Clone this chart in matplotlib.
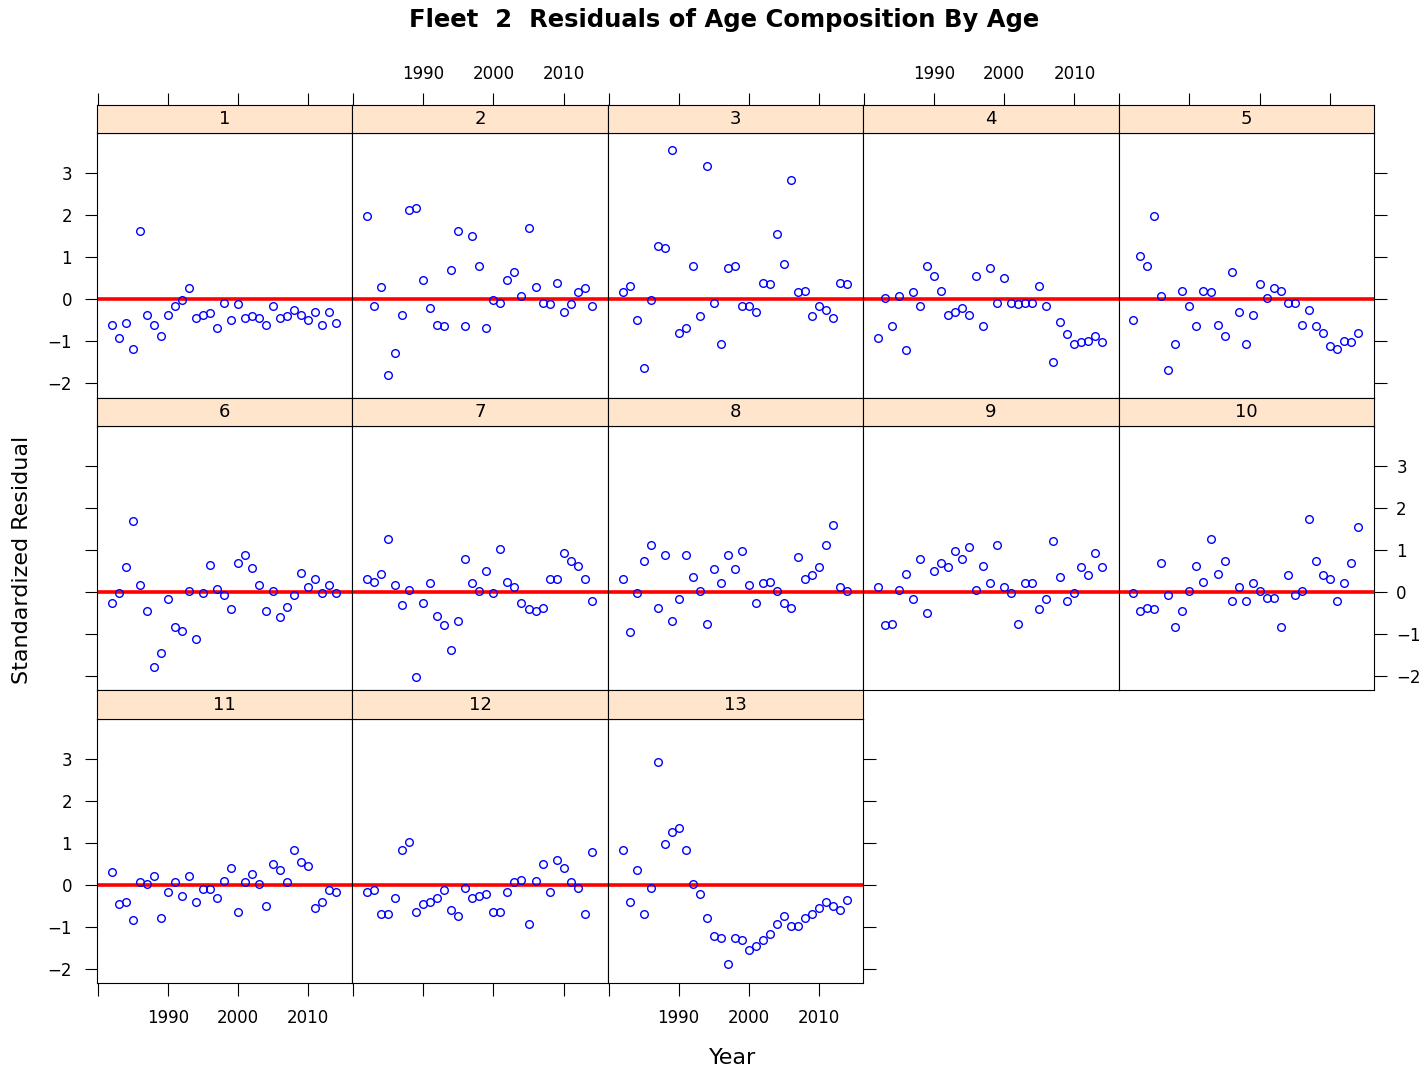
import numpy as np
import matplotlib
matplotlib.use("Agg")
import matplotlib.pyplot as plt

plt.rcParams["font.family"] = ["DejaVu Sans"]

years = list(range(1982, 2015))

age1 = [-0.60, -0.93, -0.56, -1.17, 1.63, -0.37, -0.60, -0.88, -0.37, -0.17, -0.02,
        0.26, -0.44, -0.37, -0.32, -0.69, -0.08, -0.50, -0.12, -0.44, -0.40, -0.44,
        -0.60, -0.17, -0.44, -0.40, -0.25, -0.37, -0.50, -0.31, -0.60, -0.31, -0.56]
age2 = [1.98, -0.17, 0.30, -1.79, -1.27, -0.37, 2.12, 2.17, 0.45, -0.20, -0.60,
        -0.64, 0.69, 1.63, -0.64, 1.50, 0.79, -0.69, -0.02, -0.08, 0.45, 0.64,
        0.07, 1.69, 0.30, -0.08, -0.12, 0.40, -0.31, -0.12, 0.17, 0.26, -0.17]
age3 = [0.17, 0.31, -0.50, -1.64, -0.02, 1.26, 1.21, 3.56, -0.79, -0.69, 0.79,
        -0.40, 3.17, -0.08, -1.07, 0.74, 0.79, -0.17, -0.17, -0.31, 0.40, 0.36,
        1.55, 0.83, 2.83, 0.17, 0.21, -0.40, -0.17, -0.25, -0.44, 0.40, 0.36]
age4 = [-0.93, 0.02, -0.64, 0.07, -1.21, 0.17, -0.17, 0.79, 0.55, 0.21, -0.37,
        -0.31, -0.21, -0.37, 0.55, -0.64, 0.74, -0.08, 0.50, -0.08, -0.12, -0.08,
        -0.08, 0.31, -0.17, -1.50, -0.55, -0.83, -1.07, -1.02, -0.98, -0.88, -1.02]
age5 = [-0.50, 1.02, 0.79, 1.98, 0.07, -1.69, -1.07, 0.21, -0.17, -0.64, 0.21,
        0.17, -0.60, -0.88, 0.64, -0.31, -1.07, -0.37, 0.36, 0.02, 0.26, 0.21,
        -0.08, -0.08, -0.60, -0.26, -0.64, -0.79, -1.12, -1.17, -0.98, -1.02, -0.79]
age6 = [-0.25, -0.02, 0.60, 1.69, 0.17, -0.44, -1.78, -1.45, -0.17, -0.83, -0.93,
        0.02, -1.11, -0.02, 0.65, 0.07, -0.07, -0.40, 0.70, 0.89, 0.56, 0.17,
        -0.44, 0.02, -0.60, -0.36, -0.07, 0.46, 0.12, 0.32, -0.02, 0.17, -0.02]
age7 = [0.30, 0.25, 0.44, 1.25, 0.16, -0.31, 0.06, -2.03, -0.27, 0.21, -0.56,
        -0.79, -1.37, -0.70, 0.78, 0.21, 0.02, 0.49, -0.03, 1.02, 0.25, 0.11,
        -0.27, -0.41, -0.46, -0.37, 0.30, 0.30, 0.92, 0.73, 0.63, 0.30, -0.22]
age8 = [0.30, -0.94, -0.03, 0.73, 1.11, -0.37, 0.87, -0.70, -0.17, 0.87, 0.35,
        0.02, -0.75, 0.54, 0.21, 0.87, 0.54, 0.97, 0.16, -0.27, 0.21, 0.25,
        0.02, -0.27, -0.37, 0.83, 0.30, 0.40, 0.59, 1.11, 1.59, 0.11, 0.02]
age9 = [0.11, -0.79, -0.75, 0.06, 0.44, -0.17, 0.78, -0.51, 0.49, 0.68, 0.59,
        0.97, 0.78, 1.06, 0.06, 0.63, 0.21, 1.11, 0.11, -0.03, -0.75, 0.21,
        0.21, -0.41, -0.17, 1.21, 0.35, -0.22, -0.03, 0.59, 0.40, 0.92, 0.59]
age10 = [-0.03, -0.46, -0.37, -0.41, 0.68, -0.08, -0.84, -0.46, 0.02, 0.63, 0.25,
         1.25, 0.44, 0.73, -0.22, 0.11, -0.22, 0.21, 0.02, -0.13, -0.13, -0.84,
         0.40, -0.08, 0.02, 1.73, 0.73, 0.40, 0.30, -0.22, 0.21, 0.68, 1.54]
age11 = [0.30, -0.46, -0.41, -0.84, 0.06, 0.02, 0.21, -0.79, -0.17, 0.06, -0.27,
         0.21, -0.41, -0.10, -0.10, -0.32, 0.10, 0.40, -0.65, 0.06, 0.25, 0.02,
         -0.51, 0.49, 0.35, 0.06, 0.83, 0.54, 0.44, -0.56, -0.41, -0.13, -0.17]
age12 = [-0.17, -0.13, -0.70, -0.70, -0.32, 0.83, 1.02, -0.65, -0.46, -0.41, -0.32,
         -0.13, -0.60, -0.75, -0.08, -0.32, -0.27, -0.22, -0.65, -0.65, -0.17, 0.06,
         0.11, -0.94, 0.10, 0.49, -0.17, 0.59, 0.40, 0.06, -0.08, -0.70, 0.78]
age13 = [0.83, -0.41, 0.34, -0.70, -0.08, 2.92, 0.97, 1.25, 1.35, 0.83, 0.02,
         -0.22, -0.79, -1.22, -1.27, -1.89, -1.27, -1.32, -1.56, -1.46, -1.32, -1.17,
         -0.94, -0.75, -0.98, -0.98, -0.79, -0.70, -0.56, -0.41, -0.51, -0.60, -0.37]

ages = [age1, age2, age3, age4, age5, age6, age7, age8, age9, age10, age11, age12, age13]
age_labels = [str(i) for i in range(1, 14)]

xticks = [1980, 1990, 2000, 2010]
xticklabels = ["", "1990", "2000", "2010"]
yticks = [-2, -1, 0, 1, 2, 3]

W, H = 1420, 1073
fig = plt.figure(figsize=(W / 100, H / 100), dpi=100)

left0 = 97
col_w = 255.4
row_top0 = 105
row_h = 292.7
strip_h = 28.3
plot_h = row_h - strip_h
tick_len = 9
fs_tick = 12

def fbox(x, y, w, h):
    # pixel box (top-left origin) -> figure fraction
    return [x / W, 1 - (y + h) / H, w / W, h / H]

for i, vals in enumerate(ages):
    r, c = divmod(i, 5)
    x0 = left0 + c * col_w
    top = row_top0 + r * row_h

    ax = fig.add_axes(fbox(x0, top + strip_h, col_w, plot_h))
    ax.plot(years, vals, "o", mfc="none", mec="#0000FF", ms=5.5, mew=1.0, zorder=3)
    ax.axhline(0, color="#FF0000", lw=2.6, zorder=2)
    ax.set_xlim(1979.9, 2016.3)
    ax.set_ylim(-2.34, 3.95)
    ax.set_xticks(xticks)
    ax.set_xticklabels(xticklabels)
    ax.set_yticks(yticks)
    for s in ax.spines.values():
        s.set_linewidth(0.8)

    last_in_row = (c == 4) or (i == len(ages) - 1)
    ax.tick_params(axis="both", direction="out", length=tick_len, width=0.8,
                   labelsize=fs_tick, top=False, labeltop=False,
                   bottom=(r == 2), labelbottom=(r == 2 and c % 2 == 0),
                   left=(c == 0), labelleft=(c == 0 and r % 2 == 0),
                   right=last_in_row, labelright=(last_in_row and r == 1))
    ax.tick_params(axis="x", pad=10)
    ax.tick_params(axis="y", which="both", pad=9)
    if last_in_row and r == 1:
        ax.tick_params(axis="y", pad=7)

    # strip
    sx = fig.add_axes(fbox(x0, top, col_w, strip_h))
    sx.set_facecolor("#FFE5CC")
    sx.set_xlim(1979.9, 2016.3)
    sx.set_ylim(0, 1)
    sx.set_yticks([])
    for s in sx.spines.values():
        s.set_linewidth(0.8)
    if r == 0:
        sx.set_xticks(xticks)
        sx.set_xticklabels(xticklabels)
        sx.tick_params(axis="x", direction="out", length=tick_len, width=0.8,
                       labelsize=fs_tick, pad=7, bottom=False, labelbottom=False,
                       top=True, labeltop=(c % 2 == 1))
    else:
        sx.set_xticks([])
    sx.text(0.5, 0.5, age_labels[i], transform=sx.transAxes, ha="center",
            va="center", fontsize=13)

fig.text(724 / W, 1 - 20 / H, "Fleet  2  Residuals of Age Composition By Age",
         ha="center", va="center", fontsize=17.5, fontweight="bold")
fig.text(733 / W, 1 - 1058 / H, "Year", ha="center", va="center", fontsize=16)
fig.text(22 / W, 1 - 560 / H, "Standardized Residual", ha="center", va="center",
         rotation=90, fontsize=16)

plt.savefig("out.png", dpi=100)
